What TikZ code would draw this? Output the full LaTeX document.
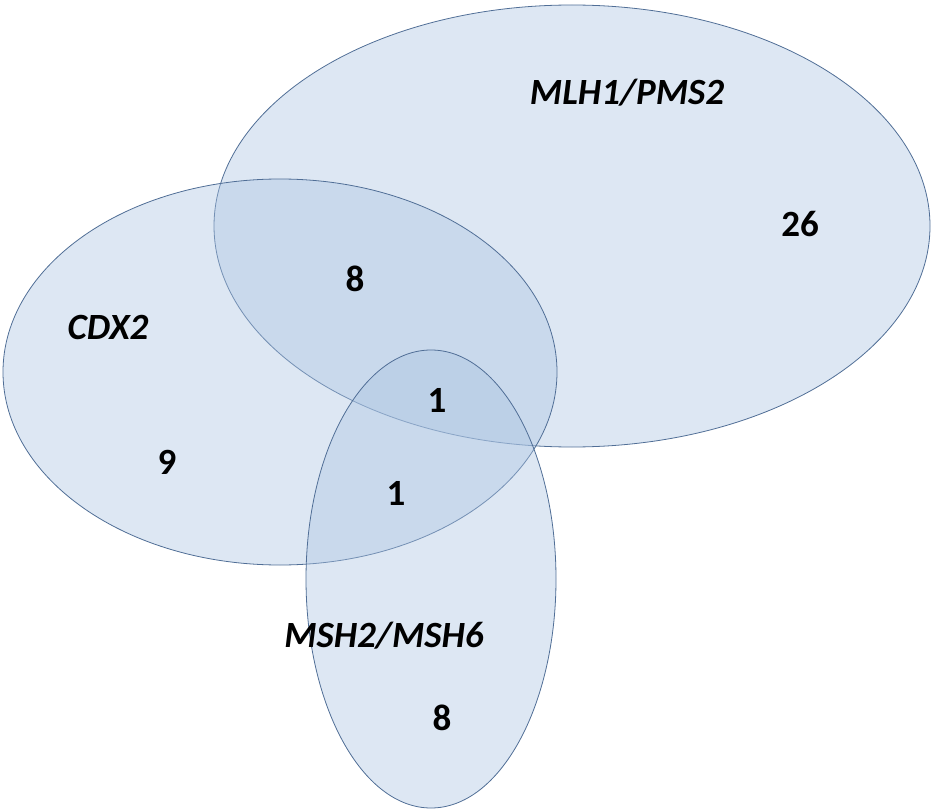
\documentclass[tikz,border=0pt]{standalone}
\usepackage{fontspec}
\setmainfont{Carlito}
\usepackage{tikz}

\definecolor{setline}{RGB}{80,110,150}
\definecolor{setfill}{RGB}{170,195,225}

\tikzset{
    set/.style={draw=setline, line width=.8pt, fill=setfill, fill opacity=.4},
    count/.style={font=\fontsize{37}{44}\selectfont\bfseries},
    setname/.style={font=\fontsize{37}{44}\selectfont\bfseries\itshape}
}

\begin{document}
\begin{tikzpicture}[x=1pt, y=-1pt]
    \useasboundingbox (0,0) rectangle (931,810);
    % Mengen.
    \draw[set] (572,226) ellipse [x radius=358, y radius=221];
    \draw[set] (280,372) ellipse [x radius=277, y radius=193];
    \draw[set] (431,579) ellipse [x radius=125, y radius=229];

    % Beschriftung.
    \node[setname] (mlh) at (627,93) {MLH1/PMS2};
    \node[setname] (cdx) at (108,327) {CDX2};
    \node[setname] (msh) at (384,636) {MSH2/MSH6};

    \node[count] (nmlh) at (800,224) {26};
    \node[count] (ncm) at (355,279) {8};
    \node[count] (ncdx) at (167,462) {9};
    \node[count] (nall) at (437,400) {1};
    \node[count] (ncs) at (396,493) {1};
    \node[count] (nmsh) at (442,718) {8};
\end{tikzpicture}
\end{document}
